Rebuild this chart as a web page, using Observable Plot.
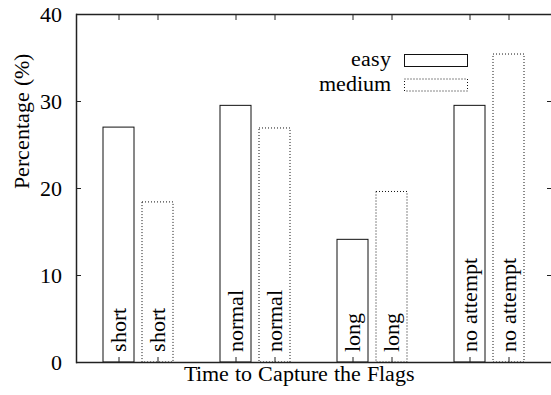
<!DOCTYPE html>
<html><head><meta charset="utf-8">
<script src="https://cdn.jsdelivr.net/npm/d3@7"></script>
<script src="https://cdn.jsdelivr.net/npm/@observablehq/plot@0.6"></script>
<style>
@font-face { font-family: "ChartSerif"; src: local("Liberation Serif"), local("LiberationSerif"), local("LiberationSerif-Regular"), local("Times New Roman"); }
body{margin:0;padding:0;background:#fff}
#chart svg, #chart svg text { font-family: "ChartSerif", "Liberation Serif", "Times New Roman", Times, serif !important; }
</style>
</head><body><div id="chart"></div>
<script>
const categories = ["short", "normal", "long", "no attempt"];
const seriesNames = ["easy", "medium"];
const easyValues = [27.0, 29.5, 14.1, 29.5];
const mediumValues = [18.4, 26.9, 19.6, 35.4];
const yTicks = [0, 10, 20, 30, 40];
const xLabel = "Time to Capture the Flags";
const yLabel = "Percentage (%)";

const rows = categories.flatMap((c, i) => [
  {category: c, series: "easy", value: easyValues[i], key: c + "|easy"},
  {category: c, series: "medium", value: mediumValues[i], key: c + "|medium"}
]);
const slots = categories.flatMap((c, i) => {
  const s = seriesNames.map(n => c + "|" + n);
  return i < categories.length - 1 ? [...s, c + "|gap"] : s;
});
const barKeys = rows.map(d => d.key);

const serifFont = "Liberation Serif";
const textSize = 22;
const chart = Plot.plot({
  width: 551, height: 395,
  marginLeft: 76, marginRight: 0, marginTop: 14, marginBottom: 33,
  style: {fontFamily: serifFont, fontSize: textSize + "px"},
  x: {type: "band", domain: slots, paddingInner: 0.2, paddingOuter: 0.6, axis: null},
  y: {domain: [0, 40], axis: null},
  marks: [
    Plot.barY(rows.filter(d => d.series === "easy"), {x: "key", y: "value", fill: "white", stroke: "#111", strokeWidth: 1}),
    Plot.barY(rows.filter(d => d.series === "medium"), {x: "key", y: "value", fill: "white", stroke: "#111", strokeWidth: 1, strokeDasharray: "1,2"}),
    Plot.text(rows, {x: "key", y: 0, text: "category", rotate: -90, textAnchor: "start", dy: -11, fontFamily: serifFont, fontSize: textSize}),
    Plot.axisY({anchor: "left", ticks: yTicks, tickSize: -5, tickPadding: 20, label: null, fontFamily: serifFont, fontSize: textSize, stroke: "#222"}),
    Plot.axisY({anchor: "right", ticks: yTicks.slice(1, -1), tickSize: -5, tickFormat: () => "", label: null, stroke: "#222"}),
    Plot.axisX({anchor: "bottom", ticks: barKeys, tickSize: -5, tickFormat: () => "", label: null, stroke: "#222"}),
    Plot.axisX({anchor: "top", ticks: barKeys, tickSize: -5, tickFormat: () => "", label: null, stroke: "#222"}),
    Plot.ruleY([0, 40], {stroke: "#222", strokeWidth: 1.5}),
    Plot.frame({anchor: "left", stroke: "#222", strokeWidth: 1.5}),
    Plot.text([xLabel], {frameAnchor: "bottom", dy: 18, dx: -15, fontFamily: serifFont, fontSize: textSize}),
    Plot.text([yLabel], {frameAnchor: "left", rotate: -90, dx: -55, fontFamily: serifFont, fontSize: textSize})
  ]
});
document.getElementById("chart").appendChild(chart);

// legend
const svg = d3.select(chart);
const lg = svg.append("g").attr("font-family", serifFont).attr("font-size", textSize);
const legendDash = [null, "1,2"];
seriesNames.forEach((name, i) => {
  lg.append("text").attr("x", 391).attr("y", 66 + i * 25).attr("text-anchor", "end").attr("fill", "black").text(name);
  lg.append("rect").attr("x", 404.5).attr("y", 54.5 + i * 24.5).attr("width", 63).attr("height", 12)
    .attr("fill", "white").attr("stroke", "#111").attr("stroke-width", 1).attr("stroke-dasharray", legendDash[i]);
});
</script></body></html>
